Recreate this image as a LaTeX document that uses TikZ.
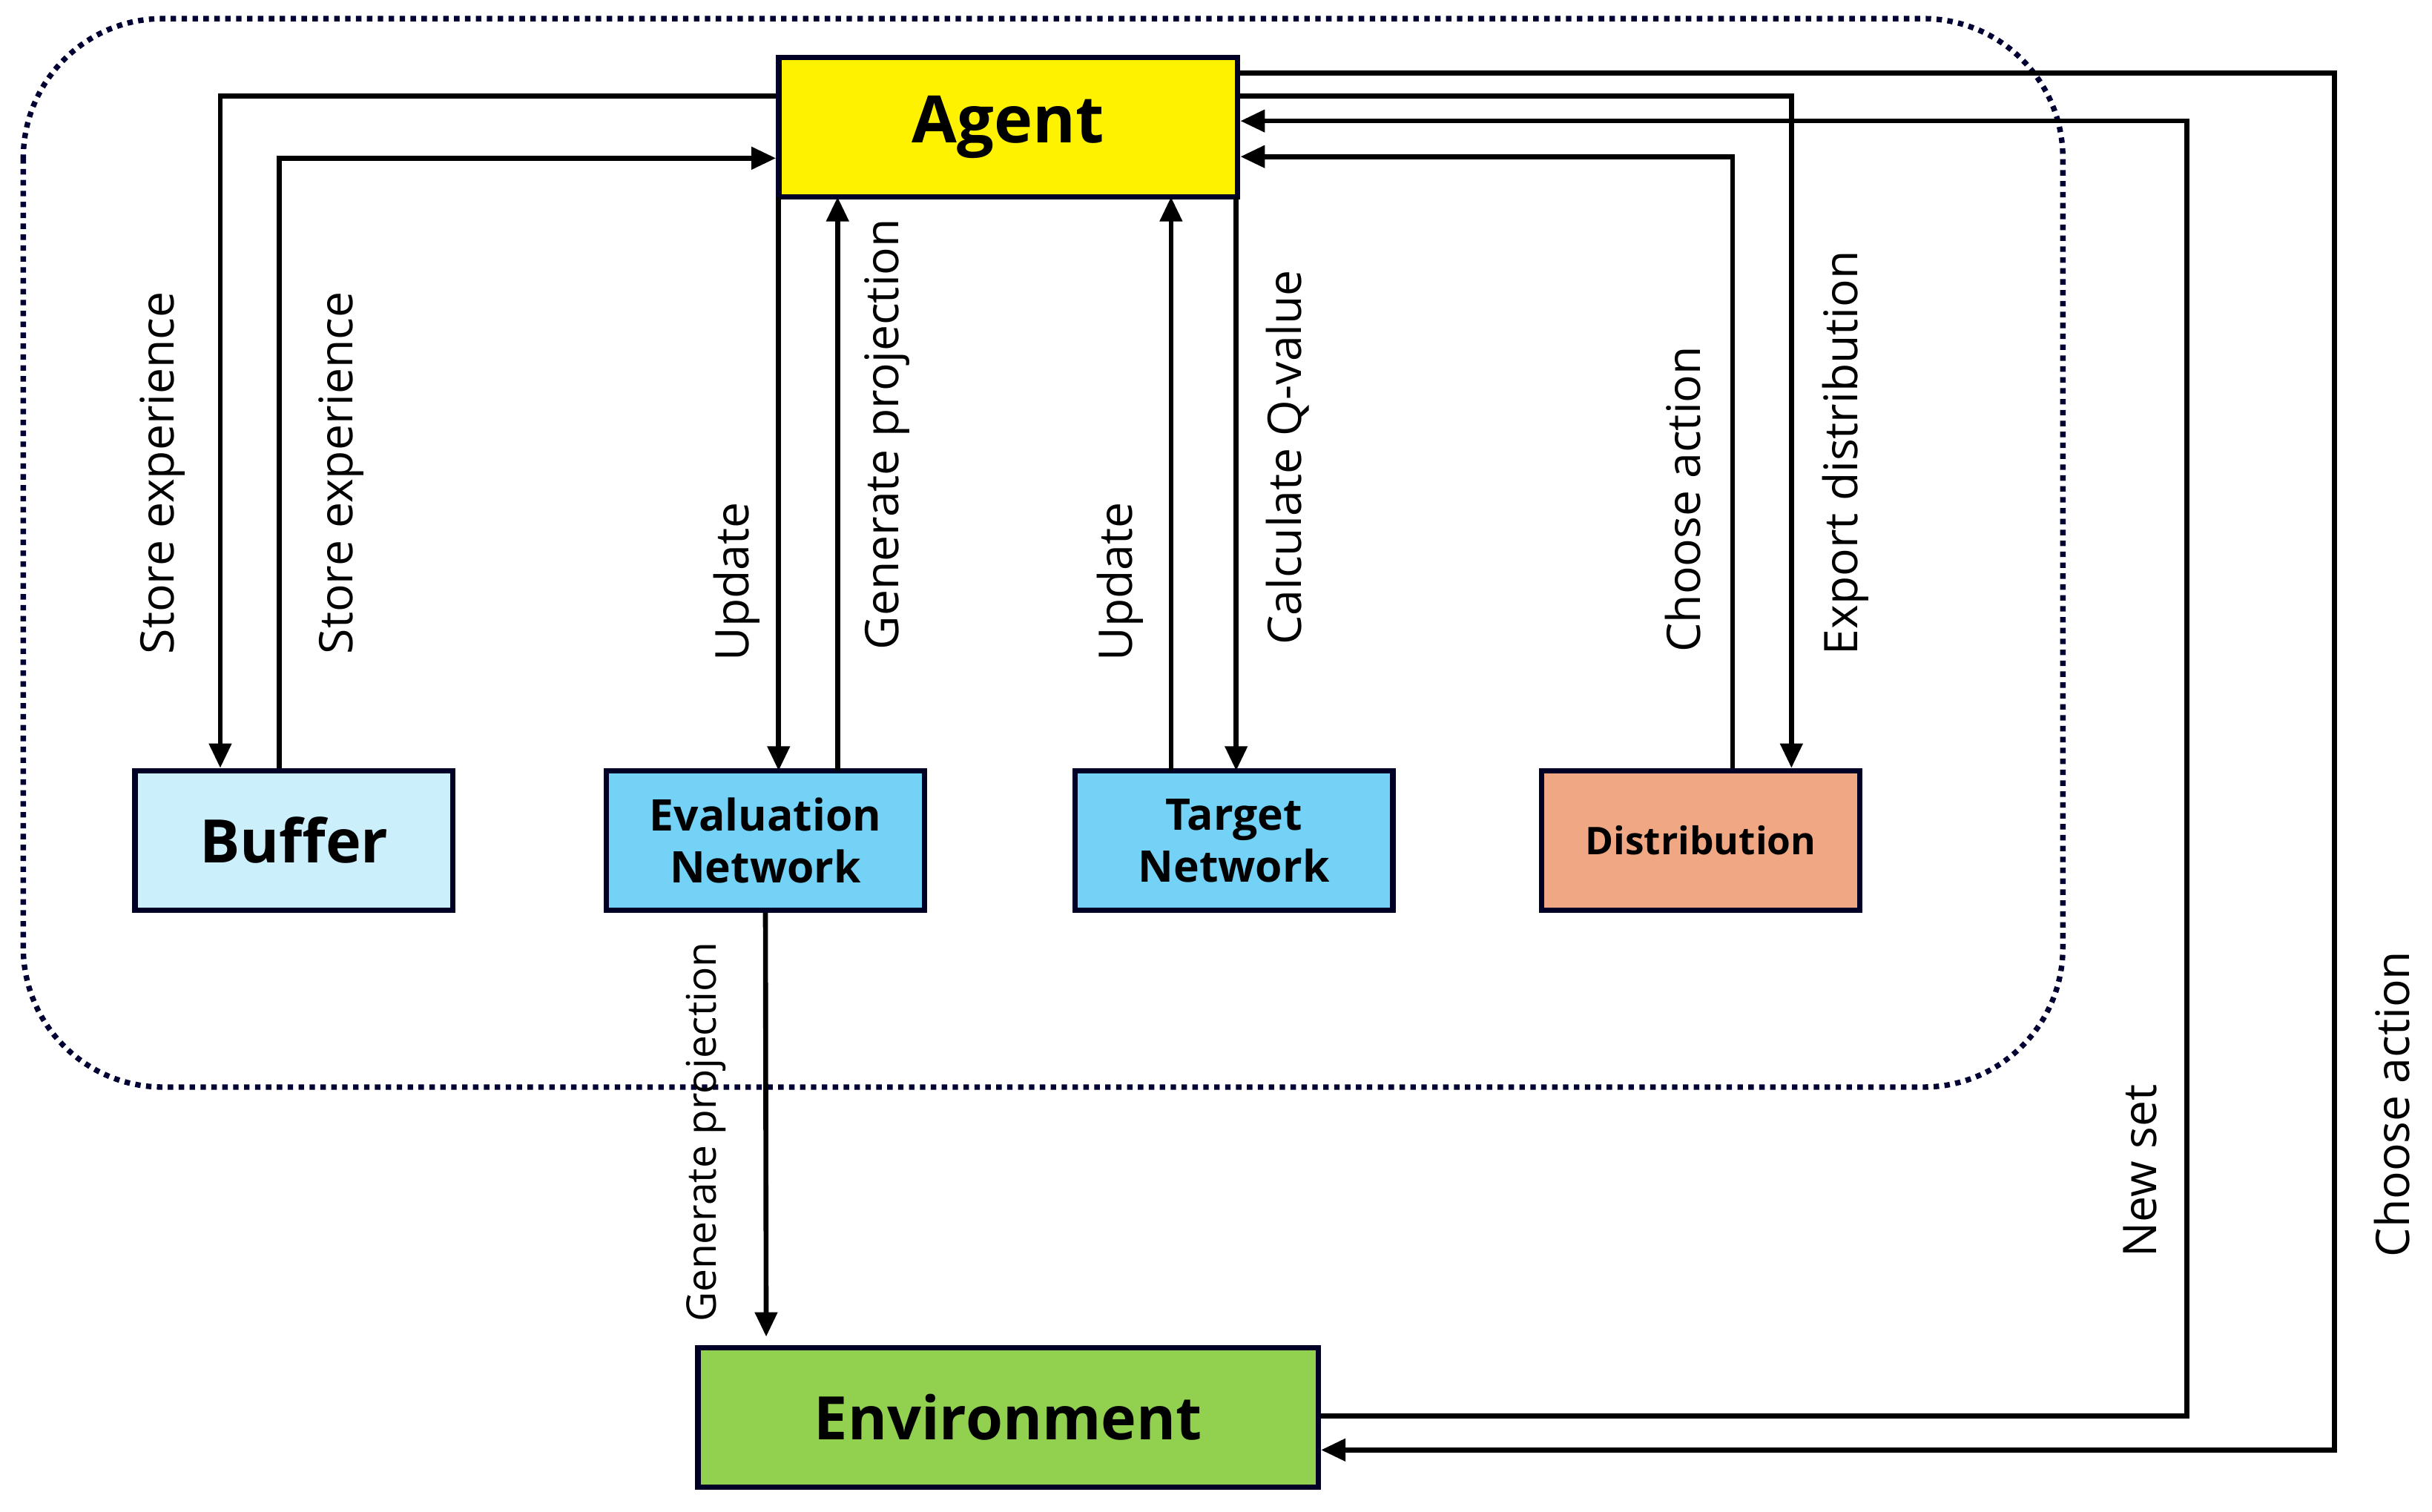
\documentclass[tikz,border=0pt]{standalone}
\usepackage{fontspec}
\setmainfont{Open Sans}
\usetikzlibrary{arrows.meta}
\begin{document}
\begin{tikzpicture}[x=0.02cm,y=-0.02cm,
  box/.style={draw=black!85!blue,line width=2pt,minimum width=4.1cm,minimum height=1.8cm,align=center,font=\bfseries,inner sep=0pt},
  conn/.style={line width=1.8pt,-{Triangle[length=9pt,width=8pt]}},
  lab/.style={rotate=90,font=\fontsize{17}{20}\selectfont,inner sep=0pt}]
\useasboundingbox (0,0) rectangle (1568,975);
\draw[line width=2pt,dotted,draw=black!80!blue,rounded corners=1.8cm] (15,12) rectangle (1330,701);
\node[box,fill=yellow,minimum width=5.92cm,font=\bfseries\fontsize{24}{28}\selectfont] (ag) at (650,82) {Agent};
\node[box,fill=cyan!20,font=\bfseries\fontsize{22}{26}\selectfont] (bu) at (189.5,542) {Buffer};
\node[box,fill=cyan!60!blue!60!white,fill=cyan!55,font=\bfseries\fontsize{16}{19}\selectfont] (ev) at (493.5,542) {Evaluation\\Network};
\node[box,fill=cyan!55,font=\bfseries\fontsize{16}{19}\selectfont] (tn) at (795.5,542) {Target\\Network};
\node[box,fill={rgb,255:red,240;green,168;blue,132},font=\bfseries\fontsize{14}{17}\selectfont] (di) at (1096.5,542) {Distribution};
\node[box,fill={rgb,255:red,146;green,208;blue,80},minimum width=8cm,font=\bfseries\fontsize{22}{26}\selectfont] (en) at (650,914) {Environment};
\coordinate (c1) at (142,62); \coordinate (c2) at (180,102);
\coordinate (c7) at (1117,101); \coordinate (c8) at (1155,62);
\coordinate (c10a) at (1410,913); \coordinate (c10b) at (1410,78);
\coordinate (c11a) at (1505,47); \coordinate (c11b) at (1505,935);
\draw[conn] (ag.west|-c1) -- (c1) -- (c1|-bu.north);
\draw[conn] (c2|-bu.north) -- (c2) -- (ag.west|-c2);
\draw[conn] (502,127) -- (502,497);
\draw[conn] (540,497) -- (540,127);
\draw[conn] (755,497) -- (755,127);
\draw[conn] (797,127) -- (797,497);
\draw[conn] (c7|-di.north) -- (c7) -- (ag.east|-c7);
\draw[conn] (ag.east|-c8) -- (c8) -- (c8|-di.north);
\draw[conn] (ev.south) -- (494,862);
\draw[conn] (en.east|-c10a) -- (c10a) -- (c10b) -- (ag.east|-c10b);
\draw[conn] (ag.east|-c11a) -- (c11a) -- (c11b) -- (en.east|-c11b);
\node[lab] at (105,305) {Store experience};
\node[lab] at (220,305) {Store experience};
\node[lab] at (475,375) {Update};
\node[lab] at (572,280) {Generate projection};
\node[lab] at (722,375) {Update};
\node[lab] at (830,295) {Calculate Q-value};
\node[lab] at (1085,322) {Choose action};
\node[lab] at (1190,292) {Export distribution};
\node[lab,font=\fontsize{15}{18}\selectfont] at (455,730) {Generate projection};
\node[lab] at (1380,755) {New set};
\node[lab] at (1542,712) {Choose action};
\end{tikzpicture}
\end{document}
